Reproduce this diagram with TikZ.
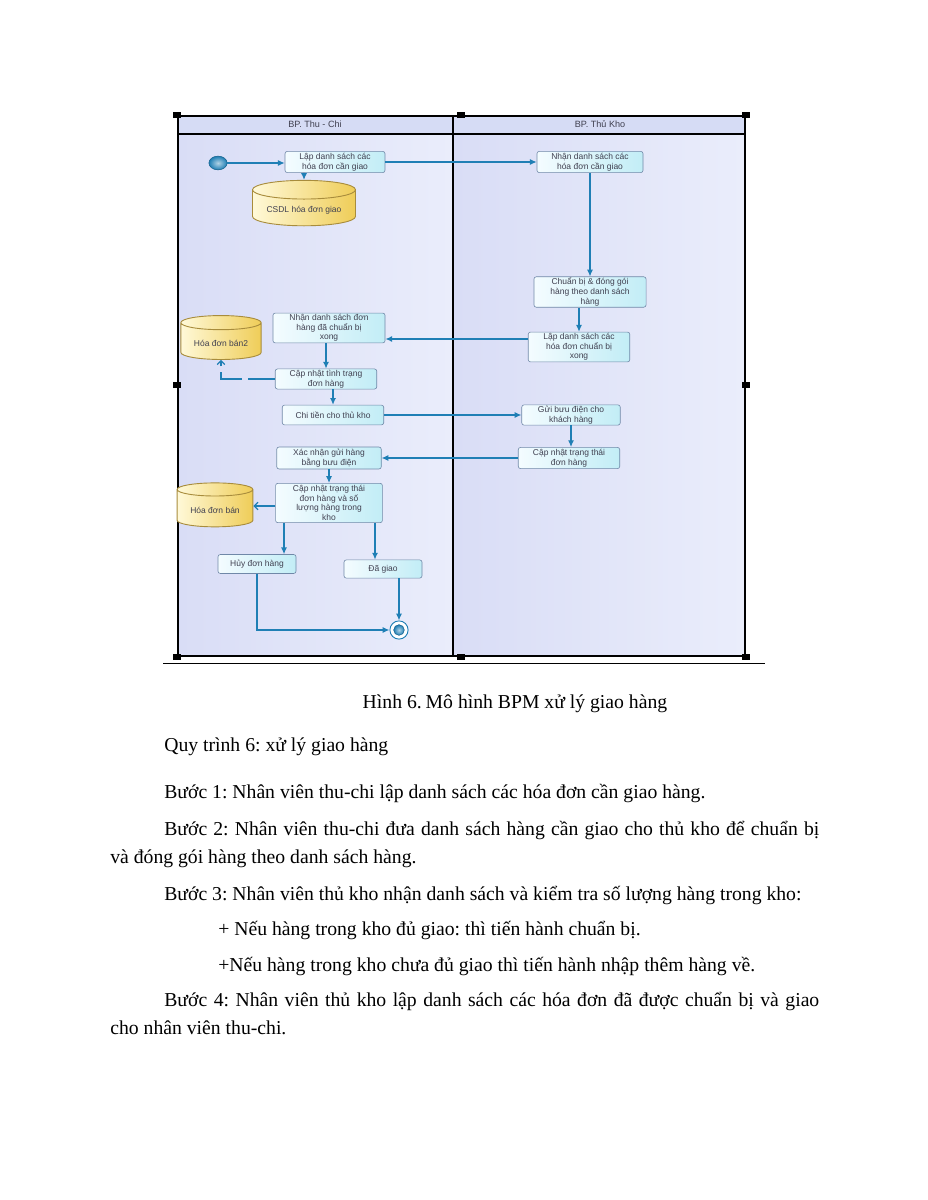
\documentclass[tikz,border=0pt]{standalone}
\usepackage{fontspec}
\setmainfont{Liberation Serif}
\newfontfamily\diafont{Liberation Sans}
\usepackage{xcolor}
\usepackage{tikz}
\usetikzlibrary{shapes.geometric, arrows.meta, positioning}
\frenchspacing

\definecolor{flowblue}{HTML}{1F7FB5}
\definecolor{actborder}{HTML}{7088A8}
\definecolor{actleft}{HTML}{F4FCFF}
\definecolor{actright}{HTML}{C2EDF6}
\definecolor{dbborder}{HTML}{A88C3C}
\definecolor{dbleft}{HTML}{FFF9D8}
\definecolor{dbright}{HTML}{EFCD58}
\definecolor{laneleft}{HTML}{D9DDF6}
\definecolor{laneright}{HTML}{EAEDFB}
\definecolor{headfill}{HTML}{D6DCF5}
\definecolor{diatext}{HTML}{404050}

\begin{document}
\begin{tikzpicture}[x=0.66019pt, y=-0.66019pt,
  act/.style={draw=actborder, rounded corners=1.5pt, left color=actleft, right color=actright,
    font=\diafont\fontsize{5.6}{6.4}\selectfont, text=diatext, align=center, inner sep=0.8pt},
  db/.style={cylinder, shape border rotate=90, aspect=0.22, draw=dbborder, line width=0.6pt,
    left color=dbleft, right color=dbright, font=\diafont\fontsize{5.6}{6.4}\selectfont, text=diatext},
  flow/.style={draw=flowblue, line width=0.8pt, -{Latex[length=4.5pt,width=4pt]}},
  oflow/.style={draw=flowblue, line width=0.8pt, -{Straight Barb[length=2.5pt,width=5pt]}},
  dflow/.style={oflow, dash pattern=on 18pt off 4pt},
  handle/.style={fill=black, minimum width=5.5pt, minimum height=4pt, inner sep=0pt},
  body/.style={anchor=base west, inner sep=0pt, font=\fontsize{13}{15}\selectfont}]
  \useasboundingbox (0,0) rectangle (927,1200);
  \fill[white] (0,0) rectangle (927,1200);

  % swimlanes
  \shade[left color=laneleft, right color=laneright] (178,134) rectangle (453,656);
  \shade[left color=laneleft, right color=laneright] (453,134) rectangle (745,656);
  \fill[headfill] (178,116) rectangle (745,134);
  \draw[line width=0.8pt] (178,116) rectangle (745,656);
  \draw[line width=0.8pt] (178,134) -- (745,134);
  \draw[line width=0.8pt] (453,116) -- (453,656);
  \draw[line width=0.6pt] (163,663) -- (765,663);
  \node[font=\diafont\fontsize{6}{6}\selectfont, text=diatext] (LaneThu) at (315,124) {BP. Thu - Chi};
  \node[font=\diafont\fontsize{6}{6}\selectfont, text=diatext] (LaneKho) at (600,124) {BP. Thủ Kho};
  \foreach \hx/\hy in {177/115, 461/115, 746/115, 177/385, 746/385, 177/657, 461/657, 746/657}
    \node[handle] at (\hx,\hy) {};

  % activities
  \node[ellipse, draw=flowblue!80!black, inner color=flowblue!35, outer color=flowblue,
    minimum width=12pt, minimum height=9pt, inner sep=0pt] (Start) at (218,163) {};
  \node[act, minimum width=66pt, minimum height=14pt] (LapDS) at (335,162) {Lập danh sách các\\hóa đơn cần giao};
  \node[db, minimum width=68pt, minimum height=30pt] (CSDL) at (304,210) {CSDL hóa đơn giao};
  \node[act, minimum width=70pt, minimum height=14pt] (NhanDS) at (590,162) {Nhận danh sách các\\hóa đơn cần giao};
  \node[act, minimum width=74pt, minimum height=19pt] (ChuanBi) at (590,292) {Chuẩn bị \& đóng gói\\hàng theo danh sách\\hàng};
  \node[act, minimum width=67pt, minimum height=19pt] (LapXong) at (579,347) {Lập danh sách các\\hóa đơn chuẩn bị\\xong};
  \node[act, minimum width=74pt, minimum height=19pt] (NhanXong) at (329,328) {Nhận danh sách đơn\\hàng đã chuẩn bị\\xong};
  \node[db, minimum width=53pt, minimum height=29pt] (HDB2) at (221,343) {Hóa đơn bán2};
  \node[act, minimum width=67pt, minimum height=13pt] (CapNhat) at (326,379) {Cập nhật tình trạng\\đơn hàng};
  \node[act, minimum width=67pt, minimum height=13pt] (ChiTien) at (333,415) {Chi tiền cho thủ kho};
  \node[act, minimum width=65pt, minimum height=13pt] (GuiBD) at (571,415) {Gửi bưu điện cho\\khách hàng};
  \node[act, minimum width=67pt, minimum height=14pt] (CapNhatTT) at (569,458) {Cập nhật trạng thái\\đơn hàng};
  \node[act, minimum width=69pt, minimum height=14.5pt] (XacNhan) at (329,458) {Xác nhận gửi hàng\\bằng bưu điện};
  \node[act, minimum width=70.5pt, minimum height=26pt] (CapNhatKho) at (329,503) {Cập nhật trạng thái\\đơn hàng và số\\lượng hàng trong\\kho};
  \node[db, minimum width=50pt, minimum height=29pt] (HDB) at (215,510) {Hóa đơn bán};
  \node[act, minimum width=51.5pt, minimum height=12.5pt] (Huy) at (257,564) {Hủy đơn hàng};
  \node[act, minimum width=51.5pt, minimum height=12pt] (DaGiao) at (383,569) {Đã giao};
  \node[circle, draw=flowblue, line width=0.6pt, fill=white, minimum size=12pt, inner sep=0pt] (End) at (399,630) {};
  \node[circle, draw=flowblue!80!black, inner color=flowblue!35, outer color=flowblue, minimum size=7pt, inner sep=0pt] (EndDot) at (End) {};

  % helper coordinates
  \coordinate (Y1) at (0,339);
  \coordinate (Y2) at (0,506);
  \coordinate (X1) at (284,0);
  \coordinate (X2) at (375,0);

  % flows
  \draw[flow] (Start) -- (LapDS.west |- Start);
  \draw[flow] (LapDS.south -| CSDL) -- (CSDL.north);
  \draw[flow] (LapDS) -- (NhanDS);
  \draw[flow] (NhanDS) -- (ChuanBi);
  \draw[flow] (LapXong.north |- ChuanBi.south) -- (LapXong.north);
  \draw[flow] (LapXong.west |- Y1) -- (NhanXong.east |- Y1);
  \draw[flow] (NhanXong.south -| CapNhat) -- (CapNhat.north);
  \draw[dflow] (CapNhat.west) -| (HDB2.south);
  \draw[flow] (CapNhat.south -| ChiTien) -- (ChiTien.north);
  \draw[flow] (ChiTien) -- (GuiBD);
  \draw[flow] (GuiBD) -- (GuiBD |- CapNhatTT.north);
  \draw[flow] (CapNhatTT) -- (XacNhan);
  \draw[flow] (XacNhan) -- (CapNhatKho);
  \draw[oflow] (CapNhatKho.west |- Y2) -- (HDB.east |- Y2);
  \draw[flow] (CapNhatKho.south -| X1) -- (Huy.north -| X1);
  \draw[flow] (CapNhatKho.south -| X2) -- (DaGiao.north -| X2);
  \draw[flow] (DaGiao.south -| End) -- (End.north);
  \draw[flow] (Huy.south) |- (End.west);

  % text below the figure
  \node[anchor=base, font=\fontsize{13}{15}\selectfont] (Caption) at (515,708) {Hình 6.\hspace{0.2em}Mô hình BPM xử lý giao hàng};
  \node[body] (Quy) at (164,751) {Quy trình 6: xử lý giao hàng};
  \node[body] (Buoc1) at (164,798) {Bước 1: Nhân viên thu-chi lập danh sách các hóa đơn cần giao hàng.};
  \node[body] (Buoc2) at (164,835) {\makebox[432.4pt][s]{Bước 2: Nhân viên thu-chi đưa danh sách hàng cần giao cho thủ kho để chuẩn bị}};
  \node[body] (Buoc2b) at (110,863) {và đóng gói hàng theo danh sách hàng.};
  \node[body] (Buoc3) at (164,900) {Bước 3: Nhân viên thủ kho nhận danh sách và kiểm tra số lượng hàng trong kho:};
  \node[body] (Neu1) at (218,935) {+ Nếu hàng trong kho đủ giao: thì tiến hành chuẩn bị.};
  \node[body] (Neu2) at (218,971) {+Nếu hàng trong kho chưa đủ giao thì tiến hành nhập thêm hàng về.};
  \node[body] (Buoc4) at (164,1006) {\makebox[432.4pt][s]{Bước 4: Nhân viên thủ kho lập danh sách các hóa đơn đã được chuẩn bị và giao}};
  \node[body] (Buoc4b) at (110,1034) {cho nhân viên thu-chi.};
\end{tikzpicture}
\end{document}
